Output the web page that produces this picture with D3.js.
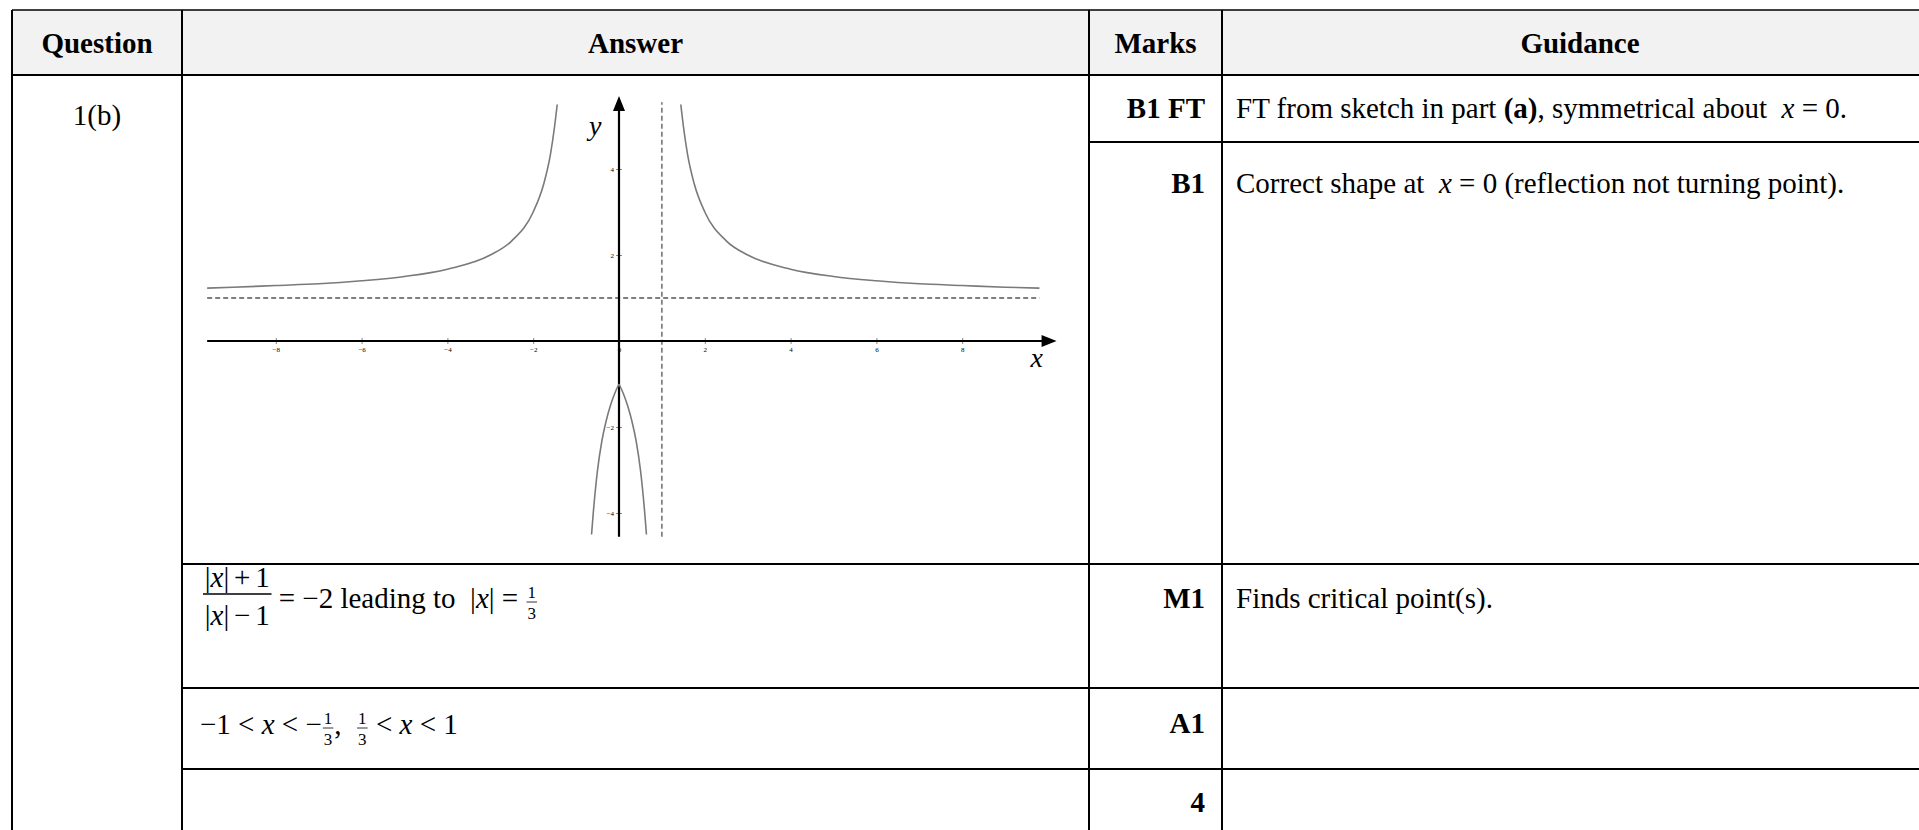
<!DOCTYPE html>
<html>
<head>
<meta charset="utf-8">
<script src="https://cdn.jsdelivr.net/npm/d3@7"></script>
<style>
  body { margin: 0; background: #fff; }
  svg text { font-family: "Liberation Serif", "Times New Roman", "DejaVu Serif", serif; white-space: pre; fill: #000; }
</style>
</head>
<body>
<div id="sheet"></div>
<script>
// table content
var headers = ["Question", "Answer", "Marks", "Guidance"];
var questionLabel = "1(b)";
var marks = ["B1 FT", "B1", "M1", "A1", "4"];
var guidance = [
    [["FT from sketch in part "], ["(a)", "b"], [", symmetrical about  "], ["x", "i"], [" = 0."]],
    [["Correct shape at  "], ["x", "i"], [" = 0 (reflection not turning point)."]],
    [["Finds critical point(s)."]],
    [],
    []
];
// answer lines: t = text run, f = display fraction, s = small fraction
var answerLines = [
    [{f: [[["|"], ["x", "i"], ["|\u2006+\u20061"]], [["|"], ["x", "i"], ["|\u2006−\u20061"]]]},
     {t: [[" = −2 leading to  |"], ["x", "i"], ["| = "]]},
     {s: ["1", "3"]}],
    [{t: [["−1 < "], ["x", "i"], [" < −"]]},
     {s: ["1", "3"]},
     {t: [[",  "]]},
     {s: ["1", "3"]},
     {t: [[" < "], ["x", "i"], [" < 1"]]}]
];

// sketch values
var xTicks = [-8, -6, -4, -2, 0, 2, 4, 6, 8];
var yTicks = [-4, -2, 2, 4];
var leftUpper = [[-9.6, 1.23], [-9, 1.25], [-8, 1.29], [-7, 1.33], [-6, 1.4], [-5, 1.5], [-4, 1.67],
    [-3, 2], [-2.5, 2.33], [-2, 3], [-1.75, 3.67], [-1.6, 4.33], [-1.5, 5], [-1.44, 5.5]];
var rightUpper = [[1.44, 5.5], [1.5, 5], [1.6, 4.33], [1.75, 3.67], [2, 3], [2.5, 2.33], [3, 2],
    [4, 1.67], [5, 1.5], [6, 1.4], [7, 1.33], [8, 1.29], [9, 1.25], [9.8, 1.23]];
var lowerLeft = [[-0.64, -4.5], [-0.6, -4], [-0.5, -3], [-0.4, -2.33], [-0.3, -1.86], [-0.2, -1.5], [-0.1, -1.22], [0, -1]];
var lowerRight = [[0, -1], [0.1, -1.22], [0.2, -1.5], [0.3, -1.86], [0.4, -2.33], [0.5, -3], [0.6, -4], [0.64, -4.5]];
var asymptoteX = 1, asymptoteY = 1;
var xAxisExtent = [-9.6, 10.2], yAxisExtent = [-4.55, 5.7];
var hDashExtent = [-9.6, 9.8], vDashExtent = [-4.55, 5.55];

// layout
var W = 1919, H = 830, fontSize = 29;
var colX = [12, 182, 1089, 1222, 1938];
var rowY = [10, 75, 142, 564, 688, 769];
var rowBase = [118, 193, 608, 733, 812];

var svg = d3.select("#sheet").append("svg")
    .attr("width", W)
    .attr("height", H);

// header band
svg.append("rect")
    .attr("x", colX[0]).attr("y", rowY[0])
    .attr("width", colX[4] - colX[0]).attr("height", rowY[1] - rowY[0])
    .attr("fill", "#f2f2f2");

var grid = svg.append("g").attr("stroke", "#000").attr("stroke-width", 2);
colX.slice(0, 4).forEach(function(cx) {
    grid.append("line").attr("x1", cx).attr("x2", cx).attr("y1", rowY[0]).attr("y2", H);
});
grid.append("line").attr("x1", colX[0]).attr("x2", colX[4]).attr("y1", rowY[0]).attr("y2", rowY[0]).attr("stroke-width", 1.5);
grid.append("line").attr("x1", colX[0]).attr("x2", colX[4]).attr("y1", rowY[1]).attr("y2", rowY[1]);
grid.append("line").attr("x1", colX[2]).attr("x2", colX[4]).attr("y1", rowY[2]).attr("y2", rowY[2]);
rowY.slice(3).forEach(function(ry) {
    grid.append("line").attr("x1", colX[1]).attr("x2", colX[4]).attr("y1", ry).attr("y2", ry);
});

// writes a run of styled parts, returns its width
function put(g, x, y, parts, size, anchor) {
    var t = g.append("text")
        .attr("x", x).attr("y", y)
        .attr("text-anchor", anchor || "start")
        .style("font-size", (size || fontSize) + "px");
    parts.forEach(function(p) {
        var s = t.append("tspan").text(p[0]);
        if (p[1] == "i") s.style("font-style", "italic");
        if (p[1] == "b") s.style("font-weight", "bold");
    });
    return t.node().getComputedTextLength();
}

function fraction(g, x, base, num, den, size, up, down, axis) {
    var a = put(g, 0, base - up, num, size);
    var b = put(g, 0, base + down, den, size);
    var w = Math.max(a, b) + size * 0.12;
    var txt = g.selectAll("text").filter(function(d, i, n) { return i >= n.length - 2; });
    txt.attr("x", x + w / 2).attr("text-anchor", "middle");
    g.append("line")
        .attr("x1", x).attr("x2", x + w)
        .attr("y1", base - axis).attr("y2", base - axis)
        .attr("stroke", "#000").attr("stroke-width", size > 20 ? 1.3 : 0.8);
    return w;
}

function mathLine(g, x, base, items) {
    items.forEach(function(it) {
        if (it.t) x += put(g, x, base, it.t);
        else if (it.f) x += fraction(g, x + 1, base, it.f[0], it.f[1], fontSize, 21, 17, 14) + 1;
        else if (it.s) x += fraction(g, x + 1, base, [[it.s[0]]], [[it.s[1]]], 17, 10, 11, 6) + 2;
    });
}

var texts = svg.append("g");
headers.forEach(function(h, i) {
    texts.append("text")
        .attr("x", (colX[i] + colX[i + 1]) / 2).attr("y", 53)
        .attr("text-anchor", "middle")
        .style("font-size", fontSize + "px").style("font-weight", "bold")
        .text(h);
});
put(texts, (colX[0] + colX[1]) / 2, 125, [[questionLabel]], fontSize, "middle");
marks.forEach(function(m, i) {
    texts.append("text")
        .attr("x", colX[3] - 17).attr("y", rowBase[i])
        .attr("text-anchor", "end")
        .style("font-size", fontSize + "px").style("font-weight", "bold")
        .text(m);
    if (guidance[i].length) put(texts, colX[3] + 14, rowBase[i], guidance[i]);
});
mathLine(texts, 202, 608, answerLines[0]);
mathLine(texts, 200, 734, answerLines[1]);

// sketch in the answer cell
var x = d3.scaleLinear().domain([-10, 10]).range([190, 1048]);
var y = d3.scaleLinear().domain([-5, 6]).range([556, 83]);
var plot = svg.append("g");

var curve = d3.line()
    .x(function(d) { return x(d[0]); })
    .y(function(d) { return y(d[1]); })
    .curve(d3.curveMonotoneX);

// asymptotes
plot.append("line")
    .attr("x1", x(hDashExtent[0])).attr("x2", x(hDashExtent[1]))
    .attr("y1", y(asymptoteY)).attr("y2", y(asymptoteY))
    .attr("stroke", "#555").attr("stroke-width", 1.4).attr("stroke-dasharray", "5,3");
plot.append("line")
    .attr("x1", x(asymptoteX)).attr("x2", x(asymptoteX))
    .attr("y1", y(vDashExtent[0])).attr("y2", y(vDashExtent[1]))
    .attr("stroke", "#555").attr("stroke-width", 1.3).attr("stroke-dasharray", "5,3");

// axes
var xAxis = plot.append("g")
    .attr("transform", "translate(0," + y(0) + ")")
    .call(d3.axisBottom(x).tickValues(xTicks).tickSize(3).tickPadding(3).tickFormat(d3.format("d")));
var yAxis = plot.append("g")
    .attr("transform", "translate(" + x(0) + ",0)")
    .call(d3.axisLeft(y).tickValues(yTicks).tickSize(3).tickPadding(2).tickFormat(d3.format("d")));
[xAxis, yAxis].forEach(function(a) {
    a.select(".domain").remove();
    a.selectAll(".tick line").attr("stroke", "#888");
    a.selectAll(".tick text").attr("fill", "#999").style("font-size", "7px");
});
xAxis.selectAll(".tick line").attr("y1", -3);
yAxis.selectAll(".tick line").attr("x1", 3);

plot.append("line")
    .attr("x1", x(xAxisExtent[0])).attr("x2", x(xAxisExtent[1]) - 8)
    .attr("y1", y(0)).attr("y2", y(0))
    .attr("stroke", "#000").attr("stroke-width", 2.2);
plot.append("line")
    .attr("x1", x(0)).attr("x2", x(0))
    .attr("y1", y(yAxisExtent[0])).attr("y2", y(yAxisExtent[1]) + 8)
    .attr("stroke", "#000").attr("stroke-width", 2.2);
var tipX = x(xAxisExtent[1]), tipY = y(yAxisExtent[1]);
plot.append("path")
    .attr("d", "M" + tipX + "," + y(0) + "l-15,-6l0,12z")
    .attr("fill", "#000");
plot.append("path")
    .attr("d", "M" + x(0) + "," + tipY + "l-6,15l12,0z")
    .attr("fill", "#000");

// branches
[leftUpper, rightUpper, lowerLeft, lowerRight].forEach(function(b) {
    plot.append("path")
        .attr("d", curve(b))
        .attr("fill", "none")
        .attr("stroke", "#7a7a7a")
        .attr("stroke-width", 1.6);
});

// axis letters
plot.append("text").attr("x", tipX - 26).attr("y", y(0) + 26)
    .style("font-size", "28px").style("font-style", "italic").text("x");
plot.append("text").attr("x", x(0) - 30).attr("y", tipY + 39)
    .style("font-size", "28px").style("font-style", "italic").text("y");
</script>
</body>
</html>
